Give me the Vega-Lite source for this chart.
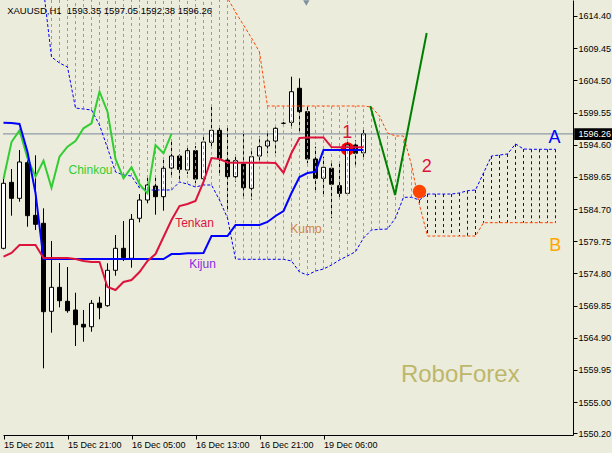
{
  "$schema": "https://vega.github.io/schema/vega-lite/v6.json",
  "width": 570,
  "height": 435,
  "autosize": "none",
  "padding": {"left": 3, "top": 0, "right": 39, "bottom": 18},
  "background": "#ECECDC",
  "config": {
    "view": {"stroke": null},
    "axis": {"grid": false, "domainColor": "black", "tickColor": "black", "labelColor": "black", "labelFont": "Liberation Sans", "labelFontSize": 9, "tickSize": 4},
    "text": {"font": "Liberation Sans"}
  },
  "resolve": {"axis": {"x": "independent", "y": "independent"}},
  "datasets": {
    "bars": [
      {"i":0,"o":1578.66,"h":1589.48,"l":1578.5,"c":1588.66,"t":1577.37,"k":1597.98,"ch":1589.32},
      {"i":1,"o":1588.81,"h":1590.86,"l":1583.68,"c":1586.35,"t":1577.94,"k":1597.94,"ch":1595.01},
      {"i":2,"o":1586.35,"h":1593.78,"l":1585.83,"c":1591.94,"t":1579.17,"k":1597.78,"ch":1596.81},
      {"i":3,"o":1591.83,"h":1593.17,"l":1581.98,"c":1583.68,"t":1579.17,"k":1593.48,"ch":1592.51},
      {"i":4,"o":1583.74,"h":1592.97,"l":1581.48,"c":1582.35,"t":1579.17,"k":1587.17,"ch":1589.68},
      {"i":5,"o":1582.51,"h":1584.81,"l":1560.2,"c":1568.91,"t":1577.17,"k":1577.01,"ch":1592.14,"a":1618.5,"b":1622},
      {"i":6,"o":1568.97,"h":1579.78,"l":1565.68,"c":1572.66,"t":1577.17,"k":1577.01,"ch":1587.98,"a":1608.09,"b":1622},
      {"i":7,"o":1572.66,"h":1576.4,"l":1569.58,"c":1570.6,"t":1577.17,"k":1577.01,"ch":1592.75,"a":1607.17,"b":1622},
      {"i":8,"o":1570.51,"h":1575.78,"l":1568.75,"c":1569.06,"t":1577.17,"k":1577.01,"ch":1594.29,"a":1606.55,"b":1622},
      {"i":9,"o":1569.17,"h":1571.83,"l":1563.63,"c":1566.91,"t":1577.01,"k":1577.01,"ch":1595.17,"a":1600.24,"b":1622},
      {"i":10,"o":1566.97,"h":1569.17,"l":1564.29,"c":1566.55,"t":1576.71,"k":1577.01,"ch":1597.12,"a":1600.09,"b":1622},
      {"i":11,"o":1566.6,"h":1570.71,"l":1565.83,"c":1570.2,"t":1576.55,"k":1577.01,"ch":1597.89,"a":1599.94,"b":1622},
      {"i":12,"o":1570.24,"h":1571.21,"l":1567.74,"c":1569.52,"t":1576.55,"k":1577.01,"ch":1602.75,"a":1597.63,"b":1622},
      {"i":13,"o":1569.83,"h":1576.35,"l":1569.68,"c":1575.28,"t":1572.71,"k":1577.01,"ch":1599.68,"a":1594.09,"b":1622},
      {"i":14,"o":1575.28,"h":1580.71,"l":1574.44,"c":1578.66,"t":1572.24,"k":1577.01,"ch":1592.4,"a":1590.4,"b":1622},
      {"i":15,"o":1578.66,"h":1582.86,"l":1576.71,"c":1577.21,"t":1573.48,"k":1577.01,"ch":1589.43,"a":1589.94,"b":1622},
      {"i":16,"o":1577.12,"h":1583.94,"l":1575.68,"c":1583.12,"t":1573.78,"k":1577.01,"ch":1591.12,"a":1589.78,"b":1622},
      {"i":17,"o":1583.28,"h":1587.01,"l":1582.66,"c":1586.09,"t":1575.01,"k":1577.01,"ch":1588.51,"a":1587.94,"b":1622},
      {"i":18,"o":1586.09,"h":1589.78,"l":1585.58,"c":1588.4,"t":1576.71,"k":1577.01,"ch":1587.12,"a":1587.63,"b":1622},
      {"i":19,"o":1588.24,"h":1589.52,"l":1583.83,"c":1586.6,"t":1577.78,"k":1577.01,"ch":1594.55,"a":1587.63,"b":1622},
      {"i":20,"o":1586.6,"h":1592.51,"l":1584.44,"c":1590.97,"t":1580.4,"k":1577.01,"ch":1593.28,"a":1587.63,"b":1622},
      {"i":21,"o":1591.01,"h":1595.43,"l":1589.68,"c":1592.86,"t":1583.01,"k":1577.78,"ch":1596.26,"a":1587.63,"b":1622},
      {"i":22,"o":1592.86,"h":1593.12,"l":1588.91,"c":1590.81,"t":1585.17,"k":1577.78,"a":1588.86,"b":1622},
      {"i":23,"o":1590.71,"h":1594.4,"l":1590.09,"c":1593.68,"t":1585.48,"k":1577.89,"a":1588.55,"b":1622},
      {"i":24,"o":1593.68,"h":1594.4,"l":1588.66,"c":1589.32,"t":1585.94,"k":1577.89,"a":1588.09,"b":1622},
      {"i":25,"o":1589.37,"h":1595.83,"l":1588.66,"c":1595.01,"t":1588.86,"k":1577.94,"a":1588.4,"b":1622},
      {"i":26,"o":1594.97,"h":1600.71,"l":1594.29,"c":1596.81,"t":1592.55,"k":1580.55,"a":1588.4,"b":1622},
      {"i":27,"o":1596.81,"h":1597.37,"l":1590.2,"c":1592.51,"t":1592.4,"k":1580.55,"a":1586.09,"b":1622},
      {"i":28,"o":1592.24,"h":1597.37,"l":1584.55,"c":1589.68,"t":1591.86,"k":1580.55,"a":1583.32,"b":1617.17},
      {"i":29,"o":1589.68,"h":1592.86,"l":1588.91,"c":1592.14,"t":1591.83,"k":1582.24,"a":1577.01,"b":1615.01},
      {"i":30,"o":1591.63,"h":1596.24,"l":1586.6,"c":1587.98,"t":1591.83,"k":1582.24,"a":1576.97,"b":1613.01},
      {"i":31,"o":1587.89,"h":1594.04,"l":1586.09,"c":1592.75,"t":1591.83,"k":1582.24,"a":1576.97,"b":1611.01},
      {"i":32,"o":1592.86,"h":1595.94,"l":1591.98,"c":1594.29,"t":1591.83,"k":1582.24,"a":1576.97,"b":1608.86},
      {"i":33,"o":1594.4,"h":1596.35,"l":1593.28,"c":1595.17,"t":1591.83,"k":1582.71,"a":1576.97,"b":1600.55},
      {"i":34,"o":1595.17,"h":1597.63,"l":1593.28,"c":1597.12,"t":1591.78,"k":1583.63,"a":1576.97,"b":1600.55},
      {"i":35,"o":1597.89,"h":1598.1,"l":1597.7,"c":1597.89,"t":1590.29,"k":1584.4,"a":1576.97,"b":1600.55},
      {"i":36,"o":1598.04,"h":1605.06,"l":1597.37,"c":1602.75,"t":1593.32,"k":1587.17,"a":1576.71,"b":1600.55},
      {"i":37,"o":1603.28,"h":1604.81,"l":1596.6,"c":1599.68,"t":1595.63,"k":1589.63,"a":1575.01,"b":1600.55},
      {"i":38,"o":1599.68,"h":1600.44,"l":1591.74,"c":1592.4,"t":1595.71,"k":1590.24,"a":1574.55,"b":1600.55},
      {"i":39,"o":1592.4,"h":1594.29,"l":1587.63,"c":1589.43,"t":1595.71,"k":1590.44,"a":1575.17,"b":1600.55},
      {"i":40,"o":1589.43,"h":1592.75,"l":1586.6,"c":1591.12,"t":1595.71,"k":1593.78,"a":1575.48,"b":1600.55},
      {"i":41,"o":1590.97,"h":1591.74,"l":1583.28,"c":1588.51,"t":1594.24,"k":1593.78,"a":1576.09,"b":1600.55},
      {"i":42,"o":1588.29,"h":1591.74,"l":1586.09,"c":1587.12,"t":1594.2,"k":1593.78,"a":1576.86,"b":1600.55},
      {"i":43,"o":1587.12,"h":1595.06,"l":1586.86,"c":1594.55,"t":1594.2,"k":1593.78,"a":1577.48,"b":1600.55},
      {"i":44,"o":1594.55,"h":1595.32,"l":1591.21,"c":1593.28,"t":1594.2,"k":1593.78,"a":1578.14,"b":1600.55},
      {"i":45,"o":1593.35,"h":1597.05,"l":1592.38,"c":1596.26,"t":1594.2,"k":1593.78,"a":1580.24,"b":1600.55},
      {"i":46,"a":1581.48,"b":1600.4},
      {"i":47,"a":1581.58,"b":1599.01},
      {"i":48,"a":1581.63,"b":1596.4},
      {"i":49,"a":1583.32,"b":1595.94},
      {"i":50,"a":1586.51,"b":1595.94},
      {"i":51,"a":1586.51,"b":1591.48},
      {"i":52,"a":1586.09,"b":1585.32},
      {"i":53,"a":1587.01,"b":1580.55},
      {"i":54,"a":1587.01,"b":1580.55},
      {"i":55,"a":1587.01,"b":1580.55},
      {"i":56,"a":1587.01,"b":1580.55},
      {"i":57,"a":1587.17,"b":1580.55},
      {"i":58,"a":1587.52,"b":1580.55},
      {"i":59,"a":1587.63,"b":1580.55},
      {"i":60,"a":1590.24,"b":1582.6},
      {"i":61,"a":1592.86,"b":1582.6},
      {"i":62,"a":1593.01,"b":1582.6},
      {"i":63,"a":1593.17,"b":1582.6},
      {"i":64,"a":1594.71,"b":1582.6},
      {"i":65,"a":1593.94,"b":1582.6},
      {"i":66,"a":1593.89,"b":1582.6},
      {"i":67,"a":1593.89,"b":1582.6},
      {"i":68,"a":1593.89,"b":1582.6},
      {"i":69,"a":1593.89,"b":1582.6}
    ]
  },
  "layer": [
    {
      "data": {"values": [{"p": 1596.26}]},
      "mark": {"type": "rule", "color": "#778899", "strokeWidth": 1},
      "encoding": {"y": {"field": "p", "type": "quantitative", "scale": {"domain": [1549.94, 1616.86], "zero": false, "nice": false, "padding": 0}, "axis": null}}
    },
    {
      "data": {"values": [{"x": 43.0, "p": 1593.94}]},
      "mark": {"type": "point", "filled": true, "color": "#FF0000", "opacity": 1, "size": 180},
      "encoding": {
        "x": {"field": "x", "type": "quantitative", "scale": {"domain": [-0.0625, 71.1875], "zero": false, "nice": false, "padding": 0}, "axis": null},
        "y": {"field": "p", "type": "quantitative", "axis": null}
      }
    },
    {
      "data": {"name": "bars"},
      "transform": [{"filter": "isValid(datum.o)"}],
      "mark": {"type": "rule", "color": "black", "strokeWidth": 1},
      "encoding": {
        "x": {"field": "i", "type": "quantitative", "scale": {"domain": [-0.0625, 71.1875], "zero": false, "nice": false, "padding": 0},
          "axis": {"title": null, "values": [0, 8, 16, 24, 32, 40], "labelAlign": "left", "labelBaseline": "top", "labelPadding": 1, "labelFlush": false,
            "labelExpr": "datum.value == 0 ? '15 Dec 2011' : datum.value == 8 ? '15 Dec 21:00' : datum.value == 16 ? '16 Dec 05:00' : datum.value == 24 ? '16 Dec 13:00' : datum.value == 32 ? '16 Dec 21:00' : '19 Dec 06:00'"}},
        "y": {"field": "l", "type": "quantitative", "scale": {"domain": [1549.94, 1616.86], "zero": false, "nice": false, "padding": 0},
          "axis": {"title": null, "orient": "right", "values": [1550.2, 1555.0, 1559.95, 1564.9, 1569.85, 1574.8, 1579.75, 1584.7, 1589.65, 1594.6, 1599.55, 1604.5, 1609.45, 1614.4], "format": ".2f", "labelPadding": 1, "labelFlush": false, "labelAlign": "left"}},
        "y2": {"field": "h"}
      }
    },
    {
      "data": {"name": "bars"},
      "transform": [{"filter": "isValid(datum.o)"}],
      "mark": {"type": "bar", "width": 4, "stroke": "black", "strokeWidth": 1},
      "encoding": {
        "x": {"field": "i", "type": "quantitative", "axis": null},
        "y": {"field": "o", "type": "quantitative", "axis": null},
        "y2": {"field": "c"},
        "fill": {"condition": {"test": "datum.c >= datum.o", "value": "white"}, "value": "black"}
      }
    },
    {
      "data": {"name": "bars"},
      "transform": [{"filter": "isValid(datum.a) && datum.i >= 6"}],
      "mark": {"type": "rule", "strokeWidth": 1, "strokeDash": [3, 3], "clip": true},
      "encoding": {
        "x": {"field": "i", "type": "quantitative", "axis": null},
        "y": {"field": "a", "type": "quantitative", "axis": null},
        "y2": {"field": "b"},
        "color": {"condition": {"test": "datum.b > datum.a", "value": "#F0804A"}, "value": "#0000FF"}
      }
    },
    {
      "data": {"name": "bars"},
      "transform": [{"filter": "isValid(datum.a)"}],
      "mark": {"type": "line", "color": "#0000FF", "strokeWidth": 1, "strokeDash": [3, 2], "clip": true},
      "encoding": {
        "x": {"field": "i", "type": "quantitative", "axis": null},
        "y": {"field": "a", "type": "quantitative", "axis": null}
      }
    },
    {
      "data": {"name": "bars"},
      "transform": [{"filter": "isValid(datum.b)"}],
      "mark": {"type": "line", "color": "#FF4500", "strokeWidth": 1, "strokeDash": [3, 2], "clip": true},
      "encoding": {
        "x": {"field": "i", "type": "quantitative", "axis": null},
        "y": {"field": "b", "type": "quantitative", "axis": null}
      }
    },
    {
      "data": {"name": "bars"},
      "transform": [{"filter": "isValid(datum.ch)"}],
      "mark": {"type": "line", "color": "#32CD32", "strokeWidth": 2},
      "encoding": {
        "x": {"field": "i", "type": "quantitative", "axis": null},
        "y": {"field": "ch", "type": "quantitative", "axis": null}
      }
    },
    {
      "data": {"name": "bars"},
      "transform": [{"filter": "isValid(datum.k)"}],
      "mark": {"type": "line", "color": "#0000FF", "strokeWidth": 2},
      "encoding": {
        "x": {"field": "i", "type": "quantitative", "axis": null},
        "y": {"field": "k", "type": "quantitative", "axis": null}
      }
    },
    {
      "data": {"name": "bars"},
      "transform": [{"filter": "isValid(datum.t)"}],
      "mark": {"type": "line", "color": "#DC143C", "strokeWidth": 2},
      "encoding": {
        "x": {"field": "i", "type": "quantitative", "axis": null},
        "y": {"field": "t", "type": "quantitative", "axis": null}
      }
    },
    {
      "data": {"values": [{"x": 45.85, "p": 1600.55}, {"x": 48.95, "p": 1586.86}, {"x": 52.9, "p": 1611.78}]},
      "mark": {"type": "line", "color": "#008000", "strokeWidth": 2},
      "encoding": {
        "x": {"field": "x", "type": "quantitative", "axis": null},
        "y": {"field": "p", "type": "quantitative", "axis": null}
      }
    },
    {
      "data": {"values": [{"x": 52.0, "p": 1587.4}]},
      "mark": {"type": "point", "filled": true, "color": "#FF4500", "opacity": 1, "size": 180},
      "encoding": {
        "x": {"field": "x", "type": "quantitative", "axis": null},
        "y": {"field": "p", "type": "quantitative", "axis": null}
      }
    },
    {
      "mark": {"type": "rule", "color": "black", "strokeWidth": 1},
      "encoding": {"x": {"datum": -0.125, "type": "quantitative", "axis": null}}
    },
    {
      "data": {"values": [{"x": 0.46, "p": 1614.66, "s": "XAUUSD,H1\u00a0\u00a01593.35\u00a01597.05\u00a01592.38\u00a01596.26"}]},
      "mark": {"type": "text", "align": "left", "baseline": "alphabetic", "fontSize": 9.5, "color": "black"},
      "encoding": {"x": {"field": "x", "type": "quantitative", "axis": null}, "y": {"field": "p", "type": "quantitative", "axis": null}, "text": {"field": "s"}}
    },
    {
      "data": {"values": [{"x": 8.125, "p": 1590.04, "s": "Chinkou"}]},
      "mark": {"type": "text", "align": "left", "baseline": "alphabetic", "fontSize": 12, "color": "#32CD32"},
      "encoding": {"x": {"field": "x", "type": "quantitative", "axis": null}, "y": {"field": "p", "type": "quantitative", "axis": null}, "text": {"field": "s"}}
    },
    {
      "data": {"values": [{"x": 21.46, "p": 1581.89, "s": "Tenkan"}]},
      "mark": {"type": "text", "align": "left", "baseline": "alphabetic", "fontSize": 12, "color": "#DC143C"},
      "encoding": {"x": {"field": "x", "type": "quantitative", "axis": null}, "y": {"field": "p", "type": "quantitative", "axis": null}, "text": {"field": "s"}}
    },
    {
      "data": {"values": [{"x": 23.21, "p": 1575.63, "s": "Kijun"}]},
      "mark": {"type": "text", "align": "left", "baseline": "alphabetic", "fontSize": 12, "color": "#8A2BE2"},
      "encoding": {"x": {"field": "x", "type": "quantitative", "axis": null}, "y": {"field": "p", "type": "quantitative", "axis": null}, "text": {"field": "s"}}
    },
    {
      "data": {"values": [{"x": 35.84, "p": 1580.97, "s": "Kumo"}]},
      "mark": {"type": "text", "align": "left", "baseline": "alphabetic", "fontSize": 12, "color": "#D2843C"},
      "encoding": {"x": {"field": "x", "type": "quantitative", "axis": null}, "y": {"field": "p", "type": "quantitative", "axis": null}, "text": {"field": "s"}}
    },
    {
      "data": {"values": [{"x": 42.96, "p": 1595.58, "s": "1"}, {"x": 52.92, "p": 1590.44, "s": "2"}]},
      "mark": {"type": "text", "align": "center", "baseline": "alphabetic", "fontSize": 18, "color": "#DC143C"},
      "encoding": {"x": {"field": "x", "type": "quantitative", "axis": null}, "y": {"field": "p", "type": "quantitative", "axis": null}, "text": {"field": "s"}}
    },
    {
      "data": {"values": [{"x": 68.86, "p": 1594.91, "s": "A"}]},
      "mark": {"type": "text", "align": "center", "baseline": "alphabetic", "fontSize": 18, "color": "#0000FF"},
      "encoding": {"x": {"field": "x", "type": "quantitative", "axis": null}, "y": {"field": "p", "type": "quantitative", "axis": null}, "text": {"field": "s"}}
    },
    {
      "data": {"values": [{"x": 68.96, "p": 1578.24, "s": "B"}]},
      "mark": {"type": "text", "align": "center", "baseline": "alphabetic", "fontSize": 18, "color": "#FFA500"},
      "encoding": {"x": {"field": "x", "type": "quantitative", "axis": null}, "y": {"field": "p", "type": "quantitative", "axis": null}, "text": {"field": "s"}}
    },
    {
      "data": {"values": [{"x": 49.68, "p": 1558.14, "s": "RoboForex"}]},
      "mark": {"type": "text", "align": "left", "baseline": "alphabetic", "fontSize": 24, "color": "#BDB76B"},
      "encoding": {"x": {"field": "x", "type": "quantitative", "axis": null}, "y": {"field": "p", "type": "quantitative", "axis": null}, "text": {"field": "s"}}
    },
    {
      "data": {"values": [{"x1": 71.34, "x2": 76.5, "p1": 1595.32, "p2": 1597.12}]},
      "mark": {"type": "rect", "color": "black", "clip": false},
      "encoding": {
        "x": {"field": "x1", "type": "quantitative", "axis": null}, "x2": {"field": "x2"},
        "y": {"field": "p1", "type": "quantitative", "axis": null}, "y2": {"field": "p2"}
      }
    },
    {
      "data": {"values": [{"x": 71.875, "p": 1595.74, "s": "1596.26"}]},
      "mark": {"type": "text", "align": "left", "baseline": "alphabetic", "fontSize": 9, "color": "white"},
      "encoding": {"x": {"field": "x", "type": "quantitative", "axis": null}, "y": {"field": "p", "type": "quantitative", "axis": null}, "text": {"field": "s"}}
    },
    {
      "data": {"values": [{"x": 37.85, "p": 1616.4}]},
      "mark": {"type": "point", "shape": "triangle-down", "filled": true, "color": "#8090A0", "opacity": 1, "size": 40},
      "encoding": {"x": {"field": "x", "type": "quantitative", "axis": null}, "y": {"field": "p", "type": "quantitative", "axis": null}}
    }
  ]
}
